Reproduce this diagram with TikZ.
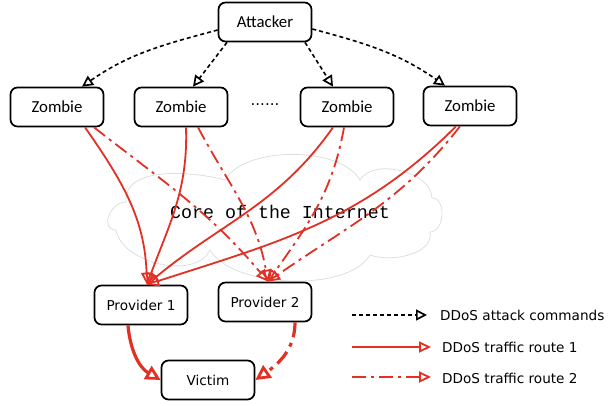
\documentclass[tikz,border=0pt]{standalone}
\usepackage{fontspec}
\setmainfont{DejaVu Sans}
\newfontfamily\zfont{Carlito}
\newfontfamily\corefont{Liberation Mono}
\usetikzlibrary{arrows.meta}
\definecolor{route}{RGB}{226,48,36}
\definecolor{cloudline}{RGB}{220,223,223}
\tikzset{
  box/.style={draw, line width=1.7pt, rounded corners=7pt, minimum width=93pt,
    minimum height=39pt, inner sep=0pt},
  zbox/.style={box, font=\zfont\fontsize{16.8}{18}\selectfont},
  pbox/.style={box, font=\fontsize{13.6}{15}\selectfont},
  cmd/.style={draw=black, line width=1.6pt, dash pattern=on 4pt off 3pt,
    -{Triangle[open, length=11pt, width=11pt, line width=1.7pt]}},
  rone/.style={draw=route, line width=1.8pt,
    -{Triangle[open, length=12pt, width=11pt, line width=1.8pt]}},
  rtwo/.style={rone, dash pattern=on 14pt off 5pt on 3pt off 5pt},
  rthick/.style={draw=route, line width=3.2pt,
    -{Triangle[open, length=15pt, width=15pt, line width=2.8pt]}},
  lbl/.style={anchor=west, inner sep=0pt, font=\fontsize{13.6}{15}\selectfont},
}
\begin{document}
\begin{tikzpicture}[x=1pt, y=1pt]
\useasboundingbox (0,0) rectangle (610,406);

% core of the network: a cloud outline
\draw[cloudline, line width=0.8pt]
  (116,176) to[out=180, in=180, looseness=1.4] (126,204)
  to[out=95, in=165, looseness=0.9] (225,226)
  to[out=60, in=120, looseness=0.75] (360,226)
  to[out=60, in=90, looseness=0.9] (432,208)
  to[out=0, in=0, looseness=1.1] (430,174)
  to[out=-80, in=-20, looseness=0.9] (370,151)
  to[out=-120, in=-60, looseness=0.7] (210,156)
  to[out=-115, in=-80, looseness=0.9] cycle;
\node[font=\corefont\fontsize{18.3}{20}\selectfont, inner sep=0pt] (corelbl) at (280,194) {Core of the Internet};

% hosts
\node[zbox] (a) at (265,384) {Attacker};
\node[zbox] (z1) at (57,299) {Zombie};
\node[zbox] (z2) at (181,299) {Zombie};
\node[font=\fontsize{15}{16}\selectfont] (dots) at (265,301) {......};
\node[zbox] (z3) at (347,299) {Zombie};
\node[zbox] (z4) at (470,300) {Zombie};
\node[pbox] (p1) at (141,101) {Provider 1};
\node[pbox] (p2) at (265,104) {Provider 2};
\node[pbox] (v) at (208,26) {Victim};

% attack commands
\draw[cmd] ([yshift=-8pt]a.west) to[out=195, in=35] ([xshift=25pt]z1.north);
\draw[cmd] ([xshift=-38pt]a.south) -- ([xshift=12pt]z2.north);
\draw[cmd] ([xshift=40pt]a.south) -- ([xshift=-14pt]z3.north);
\draw[cmd] ([yshift=-7pt]a.east) to[out=-15, in=145] ([xshift=-25pt]z4.north);

% traffic route 1
\draw[rone] ([xshift=28pt]z1.south) to[out=-55, in=92] ([xshift=6pt]p1.north);
\draw[rone] ([xshift=5pt]z2.south) to[out=-88, in=70] ([xshift=6pt]p1.north);
\draw[rone] ([xshift=-14pt]z3.south) to[out=-125, in=40] ([xshift=6pt]p1.north);
\draw[rone] ([xshift=-14pt]z4.south) to[out=-135, in=18] ([xshift=6pt]p1.north);

% traffic route 2
\draw[rtwo] ([xshift=37pt]z1.south) to[out=-38, in=130] ([xshift=3pt]p2.north);
\draw[rtwo] ([xshift=17pt]z2.south) to[out=-62, in=100] ([xshift=3pt]p2.north);
\draw[rtwo] ([xshift=-3pt]z3.south) to[out=-100, in=55] ([xshift=3pt]p2.north);
\draw[rtwo] ([xshift=-10pt]z4.south) to[out=-128, in=35] ([xshift=3pt]p2.north);

% delivery to the victim
\draw[rthick] ([xshift=-13pt]p1.south) to[out=-85, in=150] (v.west);
\draw[rthick, dash pattern=on 15pt off 6pt on 4pt off 6pt] ([xshift=30pt]p2.south) to[out=-90, in=35] (v.east);

% legend
\coordinate (k1a) at (352,91);  \coordinate (k1b) at (427,91);
\coordinate (k2a) at (352,59);  \coordinate (k2b) at (431,59);
\coordinate (k3a) at (352,29);  \coordinate (k3b) at (431,29);
\draw[cmd] (k1a) -- (k1b);
\draw[rone] (k2a) -- (k2b);
\draw[rtwo] (k3a) -- (k3b);
\node[lbl] (t1) at (440,91) {DDoS attack commands};
\node[lbl] (t2) at (442,59) {DDoS traffic route 1};
\node[lbl] (t3) at (442,28) {DDoS traffic route 2};
\end{tikzpicture}
\end{document}
